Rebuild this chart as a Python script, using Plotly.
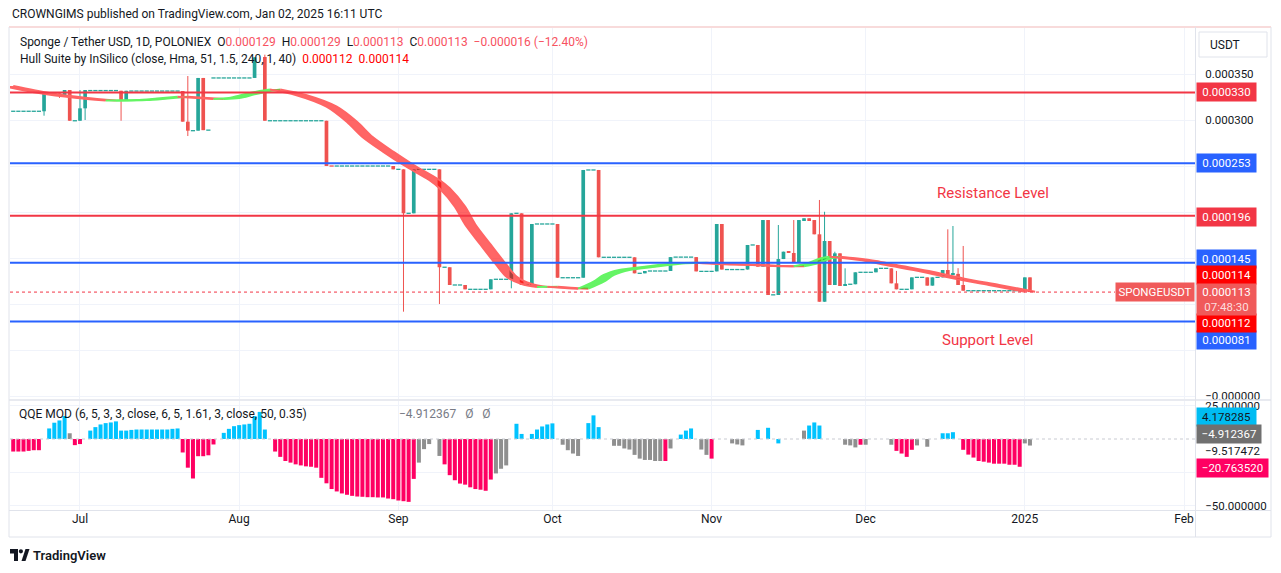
import pandas as pd
import plotly.graph_objects as go

SCALE = 1e-6  # all prices below are in millionths of USDT

# ---------------- candles (days with trades) ----------------
candle_dates = [
    "2024-06-24", "2024-06-27", "2024-06-28", "2024-06-29", "2024-07-01", "2024-07-02",
    "2024-07-09", "2024-07-10", "2024-07-21", "2024-07-22", "2024-07-24", "2024-07-25",
    "2024-08-04", "2024-08-06", "2024-08-18", "2024-08-31", "2024-09-02", "2024-09-04",
    "2024-09-09", "2024-09-11", "2024-09-14", "2024-09-19", "2024-09-23", "2024-09-25",
    "2024-09-27", "2024-10-02", "2024-10-07", "2024-10-10", "2024-10-17", "2024-10-19",
    "2024-10-24", "2024-10-29", "2024-11-02", "2024-11-03", "2024-11-08", "2024-11-10",
    "2024-11-11", "2024-11-12", "2024-11-14", "2024-11-15", "2024-11-16", "2024-11-17",
    "2024-11-18", "2024-11-19", "2024-11-20", "2024-11-21", "2024-11-22", "2024-11-23",
    "2024-11-24", "2024-11-25", "2024-11-26", "2024-11-27", "2024-11-29", "2024-12-03",
    "2024-12-06", "2024-12-07", "2024-12-10", "2024-12-13", "2024-12-14", "2024-12-16",
    "2024-12-17", "2024-12-18", "2024-12-19", "2024-12-20", "2025-01-01", "2025-01-02",
]
candle_open = [
    309.5, 329.0, 327.0, 332.6, 299.2, 312.7,
    331.8, 321.0, 331.5, 298.2, 288.4, 345.7,
    345.7, 368.5, 299.2, 250.0, 246.4, 198.6,
    246.4, 140.0, 120.7, 116.0, 126.9, 198.6,
    120.7, 187.0, 128.6, 245.7, 150.8, 133.4,
    135.9, 151.0, 135.5, 187.0, 137.5, 164.2,
    140.6, 191.3, 109.8, 148.9, 156.9, 155.5,
    144.9, 191.3, 193.2, 191.3, 175.8, 102.5,
    168.5, 120.7, 155.1, 120.5, 121.5, 134.5,
    138.8, 122.5, 116.0, 129.0, 120.0, 129.0,
    137.0, 131.6, 132.8, 120.7, 114.5, 129.0,
]
candle_high = [
    329.0, 329.0, 332.6, 332.6, 332.6, 332.6,
    331.8, 331.8, 331.5, 347.8, 345.7, 345.7,
    368.1, 371.0, 299.2, 250.0, 246.4, 246.4,
    246.4, 140.0, 120.7, 126.9, 198.6, 198.6,
    187.0, 187.0, 245.7, 245.7, 150.8, 135.9,
    151.0, 151.0, 187.0, 187.0, 164.2, 164.2,
    191.3, 191.3, 185.9, 156.9, 156.9, 191.3,
    191.3, 193.2, 193.2, 191.3, 213.1, 200.3,
    168.5, 156.9, 155.1, 138.8, 134.5, 138.8,
    138.8, 136.0, 129.0, 129.0, 129.0, 137.0,
    181.2, 184.8, 139.0, 163.1, 129.0, 129.0,
]
candle_low = [
    304.7, 324.0, 327.0, 299.2, 299.2, 300.0,
    299.2, 321.0, 298.2, 282.6, 288.4, 289.0,
    345.7, 299.2, 250.0, 246.4, 91.7, 198.6,
    100.0, 120.7, 116.0, 116.0, 117.1, 120.7,
    120.7, 128.6, 128.6, 150.8, 133.4, 133.4,
    135.9, 135.5, 135.5, 137.5, 137.5, 140.6,
    140.6, 109.8, 109.8, 148.9, 155.5, 144.9,
    144.9, 191.3, 191.3, 175.8, 102.5, 102.5,
    120.7, 120.7, 119.6, 120.5, 121.5, 134.5,
    122.5, 116.0, 116.0, 120.0, 120.0, 129.0,
    131.6, 131.6, 120.7, 114.5, 114.5, 113.0,
]
candle_close = [
    329.0, 326.5, 332.6, 299.2, 312.7, 332.6,
    321.0, 331.8, 298.2, 288.4, 345.7, 289.0,
    368.1, 299.2, 250.0, 246.4, 198.6, 246.4,
    140.0, 120.7, 116.0, 126.9, 198.6, 120.7,
    187.0, 128.6, 245.7, 150.8, 133.4, 135.9,
    151.0, 135.5, 187.0, 137.5, 164.2, 140.6,
    191.3, 109.8, 148.9, 156.9, 155.5, 144.9,
    191.3, 193.2, 191.3, 175.8, 102.5, 168.5,
    120.7, 155.1, 119.6, 121.5, 134.5, 138.8,
    122.5, 116.0, 129.0, 120.0, 129.0, 137.0,
    131.6, 132.8, 120.7, 114.5, 129.0, 113.0,
]

# ---------------- no-trade days (flat ticks), as observed runs ----------------
flat_start = [
    "2024-06-18", "2024-06-25", "2024-06-30", "2024-07-03", "2024-07-11", "2024-07-23",
    "2024-07-26", "2024-07-27", "2024-08-07", "2024-08-19", "2024-08-20", "2024-09-01",
    "2024-09-03", "2024-09-05", "2024-09-10", "2024-09-12", "2024-09-15", "2024-09-20",
    "2024-09-24", "2024-09-26", "2024-09-28", "2024-10-03", "2024-10-08", "2024-10-11",
    "2024-10-18", "2024-10-20", "2024-10-25", "2024-10-30", "2024-11-04", "2024-11-09",
    "2024-11-13", "2024-11-28", "2024-11-30", "2024-12-04", "2024-12-08", "2024-12-11",
    "2024-12-15", "2024-12-21",
]
flat_end = [
    "2024-06-23", "2024-06-26", "2024-06-30", "2024-07-08", "2024-07-20", "2024-07-23",
    "2024-07-26", "2024-08-03", "2024-08-17", "2024-08-19", "2024-08-30", "2024-09-01",
    "2024-09-03", "2024-09-08", "2024-09-10", "2024-09-13", "2024-09-18", "2024-09-22",
    "2024-09-24", "2024-09-26", "2024-10-01", "2024-10-06", "2024-10-09", "2024-10-16",
    "2024-10-18", "2024-10-23", "2024-10-28", "2024-11-01", "2024-11-07", "2024-11-09",
    "2024-11-13", "2024-11-28", "2024-12-02", "2024-12-05", "2024-12-09", "2024-12-12",
    "2024-12-15", "2024-12-31",
]
flat_price = [
    309.5, 329.0, 299.2, 332.0, 331.5, 288.4,
    289.0, 345.7, 299.2, 250.0, 250.0, 246.4,
    198.6, 246.4, 140.0, 120.7, 116.0, 126.9,
    198.6, 120.7, 187.0, 128.6, 245.7, 150.8,
    133.4, 135.9, 151.0, 135.5, 137.5, 164.2,
    110.0, 121.5, 134.5, 138.8, 116.0, 129.0,
    129.0, 114.5,
]
flat_down = [
    False, False, False, False, False, False,
    False, False, False, True, False, False,
    False, False, False, False, False, False,
    False, False, False, False, False, False,
    False, False, False, False, False, False,
    False, False, False, False, False, False,
    False, False,
]

# ---------------- Hull Suite (HMA 51) centre line ----------------
hull_dates = [
    "2024-06-17", "2024-06-24", "2024-07-01", "2024-07-07", "2024-07-13", "2024-07-17",
    "2024-07-21", "2024-07-24", "2024-07-28", "2024-07-31", "2024-08-03", "2024-08-06",
    "2024-08-08", "2024-08-13", "2024-08-19", "2024-08-23", "2024-08-26", "2024-08-30",
    "2024-09-03", "2024-09-08", "2024-09-10", "2024-09-13", "2024-09-15", "2024-09-18",
    "2024-09-21", "2024-09-23", "2024-09-26", "2024-09-29", "2024-10-01", "2024-10-05",
    "2024-10-07", "2024-10-10", "2024-10-12", "2024-10-15", "2024-10-20", "2024-10-26",
    "2024-10-30", "2024-11-03", "2024-11-10", "2024-11-14", "2024-11-18", "2024-11-21",
    "2024-11-23", "2024-11-25", "2024-11-28", "2024-12-02", "2024-12-06", "2024-12-13",
    "2024-12-19", "2024-12-26", "2025-01-02",
]
hull_vals = [
    337.0, 329.4, 324.2, 321.2, 321.7, 323.4,
    325.3, 324.2, 322.8, 323.9, 327.9, 331.5,
    333.2, 327.2, 314.5, 297.8, 281.5, 265.6,
    251.1, 234.8, 225.8, 205.8, 186.5, 164.5,
    143.0, 130.0, 121.8, 118.6, 118.9, 117.2,
    116.7, 124.3, 131.6, 137.0, 140.6, 144.3,
    144.9, 143.5, 142.4, 141.3, 141.0, 144.9,
    149.3, 151.4, 149.7, 146.8, 142.4, 135.1,
    127.9, 120.7, 113.4,
]

# ---------------- QQE MOD histogram (one bar per day from 2024-06-18) ----------------
qqe_first_day = "2024-06-18"
qqe_jun = [-9.4, -9.4, -9.4, -8.9, -8.4, -8.4, 0, 7.9, 12.2, 13.9, 17.2, 4.3, -4.6]
qqe_jul = [-3.8, 0, 6.3, 8.9, 10.9, 11.9, 12.4, 13.2, 6.3, 6.3, 6.8, 7.1, 7.1, 7.1, 7.1, 7.1,
           7.1, 7.1, 7.6, 7.9, -10.1, -21.5, -29.6, -12.9, -12.9, -12.2, -4.1, 0, 4.6, 7.6, 9.6]
qqe_aug = [10.4, 10.9, 11.4, 17.2, 20.3, 7.1, 0, -9.4, -13.4, -16.5, -17.7, -19.0, -19.8, -20.5,
           -20.8, -21.5, -29.1, -33.2, -37.5, -39.3, -40.8, -41.8, -42.6, -43.1, -43.3, -43.6,
           -43.6, -43.8, -43.8, -44.6, -45.1]
qqe_sep = [-46.1, -46.6, -47.1, -29.9, -17.7, -7.6, -3.8, 0, -12.7, -19.0, -27.1, -30.9, -33.4,
           -34.2, -36.2, -37.5, -38.0, -38.8, -30.4, -25.8, -22.3, -19.8, 0, 11.4, 3.8, 0, 3.8,
           7.1, 9.4, 10.9]
qqe_oct = [11.7, 0, -4.3, -8.4, -10.9, -12.7, 0, 11.9, 17.7, 8.9, 0, 0, -5.1, -5.1, -7.1, -7.9,
           -11.9, -14.7, -15.7, -15.7, -16.5, -16.5, -16.5, -7.1, 0, 3.3, 6.3, 7.9, 0, -7.9, -11.9]
qqe_nov = [-14.7, 0, 0, 0, -3.3, -4.1, -4.8, 0, 0, 6.8, 0, 8.4, 0, -3.3, 0, 0, 0, 0, 6.3, 10.1,
           12.4, 10.1, 0, 0, 0, 0, -4.3, -4.8, -6.3, -4.3]
qqe_dec = [-4.3, 0, 0, 0, 0, -4.3, -8.9, -10.9, -13.4, -8.1, -4.8, 0, -5.8, 0, 0, 4.3, 4.3, 5.1,
           0, -8.1, -11.7, -13.9, -16.5, -17.0, -17.7, -18.5, -18.5, -18.5, -19.3, -19.3, -20.8]
qqe_jan = [-3.3, -4.9]
# state per bar: u = above upper threshold, d = below lower threshold, n = neutral
qqe_state_jun = "ddddddnuuuund"
qqe_state_jul = "dnuuuuuuuuuuuuuuuuuudddddddnuuu"
qqe_state_aug = "uuuuuunddddddddddddddddddddddd"  + "d"
qqe_state_sep = "ddddnnnnnddddddddddnnnnuunuuuu"
qqe_state_oct = "unnnnnnuuunnnnnnnnnnnndnnuuunnn"
qqe_state_nov = "dnnnnnnnnunununnnnnuuuunnnnnndn"[:30]
qqe_state_dec = "nnnnnnddddnnnnnuuunddddddddddddd"[:31]
qqe_state_jan = "nn"

# ---------------- levels & labels ----------------
level_vals = [330, 253, 196, 145, 81]
level_is_red = [True, False, True, False, False]
last_price = 113
hull_last = [112, 114]
qqe_last = [4.178285, -4.912367, -9.517472, -20.763520]
month_ticks = ["2024-07-01", "2024-08-01", "2024-09-01", "2024-10-01", "2024-11-01",
               "2024-12-01", "2025-01-01", "2025-02-01"]
month_text = ["Jul", "Aug", "Sep", "Oct", "Nov", "Dec", "2025", "Feb"]
price_ticks = [0, 50, 100, 150, 200, 250, 300, 350]
price_tick_text = ["\u22120.000000", "", "", "", "0.000200", "", "0.000300", "0.000350"]
qqe_ticks = [25, -25, -50]
qqe_tick_text = ["25.000000", "", "\u221250.000000"]

# ---------------- style ----------------
TEAL = "#26A69A"
RED = "#EF5350"
LVL_RED = "#F23645"
LVL_BLUE = "#2962FF"
TXT = "#131722"
GRID = "#F0F3FA"
BORDER = "#E0E3EB"
QQE_COL = {"u": "#00C3FF", "d": "#FF0062", "n": "rgba(112,112,112,0.78)"}
FONT = "Roboto"

W, H = 1281, 573
ML, MR, MT, MB = 10, 86, 28, 63
PW = W - ML - MR
PH = H - MT - MB


def px(x):
    return (x - ML) / PW


def py(y):
    return (H - MB - y) / PH


DAY = pd.Timedelta(days=1)
x_start = pd.Timestamp("2024-07-01") - 13.63 * DAY
x_end = pd.Timestamp("2024-07-01") + 217.14 * DAY

fig = go.Figure()

# ---- candles ----
cd = pd.to_datetime(candle_dates)
up = [c >= o for o, c in zip(candle_open, candle_close)]
for want, col in ((True, TEAL), (False, RED)):
    wx, wy = [], []
    for d, h, l, u in zip(cd, candle_high, candle_low, up):
        if u == want:
            wx += [d, d, None]
            wy += [l * SCALE, h * SCALE, None]
    fig.add_trace(go.Scatter(x=wx, y=wy, mode="lines", line=dict(color=col, width=1),
                             xaxis="x", yaxis="y", hoverinfo="skip"))
fig.add_trace(go.Bar(
    x=cd,
    y=[abs(c - o) * SCALE for o, c in zip(candle_open, candle_close)],
    base=[min(o, c) * SCALE for o, c in zip(candle_open, candle_close)],
    width=0.72 * 86400000,
    marker=dict(color=[TEAL if u else RED for u in up], line=dict(width=0)),
    xaxis="x", yaxis="y", hoverinfo="skip"))

# ---- flat (no trade) days ----
fx, fy, fc = [], [], []
for s, e, p, dn in zip(flat_start, flat_end, flat_price, flat_down):
    for dt in pd.date_range(s, e, freq="D"):
        fx.append(dt)
        fy.append(p * SCALE)
        fc.append(RED if dn else TEAL)
fig.add_trace(go.Scatter(x=fx, y=fy, mode="markers",
                         marker=dict(symbol="line-ew", size=3, line=dict(width=1.3, color=fc)),
                         xaxis="x", yaxis="y", hoverinfo="skip"))

# ---- Hull band (HMA vs HMA[2]) ----
hd = pd.to_datetime(hull_dates)
n = len(hull_vals)
i = 0
while i < n - 1:
    rising = hull_vals[i + 1] > hull_vals[i]
    j = i + 1
    while j < n - 1 and (hull_vals[j + 1] > hull_vals[j]) == rising:
        j += 1
    xs = hd[i:j + 1]
    ys = [v * SCALE for v in hull_vals[i:j + 1]]
    lc = "rgb(100,245,100)" if rising else "rgb(255,100,100)"
    fc_ = "rgba(0,235,0,0.6)" if rising else "rgba(255,0,0,0.6)"
    fig.add_trace(go.Scatter(x=xs - DAY, y=ys, mode="lines",
                             line=dict(color=lc, width=2, shape="spline", smoothing=0.8),
                             xaxis="x", yaxis="y", hoverinfo="skip"))
    fig.add_trace(go.Scatter(x=xs + DAY, y=ys, mode="lines",
                             line=dict(color=lc, width=2, shape="spline", smoothing=0.8),
                             fill="tonexty", fillcolor=fc_,
                             xaxis="x", yaxis="y", hoverinfo="skip"))
    i = j

# ---- QQE histogram ----
qqe_vals = qqe_jun + qqe_jul + qqe_aug + qqe_sep + qqe_oct + qqe_nov + qqe_dec + qqe_jan
qqe_state = (qqe_state_jun + qqe_state_jul + qqe_state_aug + qqe_state_sep + qqe_state_oct
             + qqe_state_nov + qqe_state_dec + qqe_state_jan)
qqe_state = (qqe_state + "n" * len(qqe_vals))[:len(qqe_vals)]
qd = pd.date_range(qqe_first_day, periods=len(qqe_vals), freq="D")
fig.add_trace(go.Bar(x=qd, y=qqe_vals, width=0.78 * 86400000,
                     marker=dict(color=[QQE_COL[s] for s in qqe_state], line=dict(width=0)),
                     xaxis="x2", yaxis="y2", hoverinfo="skip"))

# ---- shapes ----
shapes = []
for v, isred in zip(level_vals, level_is_red):
    shapes.append(dict(type="line", xref="paper", yref="y", x0=0, x1=1, y0=v * SCALE, y1=v * SCALE,
                       line=dict(color=LVL_RED if isred else LVL_BLUE, width=2), layer="above"))
shapes.append(dict(type="line", xref="paper", yref="y", x0=0, x1=px(1115),
                   y0=last_price * SCALE, y1=last_price * SCALE,
                   line=dict(color=LVL_RED, width=1, dash="dot"), layer="above"))
shapes.append(dict(type="line", xref="paper", yref="y2", x0=0, x1=1, y0=0, y1=0,
                   line=dict(color="#C9CBD2", width=1, dash="dot"), layer="above"))


def hline(y, x0, x1, color=BORDER, width=1):
    shapes.append(dict(type="line", xref="paper", yref="paper", x0=px(x0), x1=px(x1),
                       y0=py(y), y1=py(y), line=dict(color=color, width=width), layer="above"))


def vline(x, y0, y1, color=BORDER, width=1):
    shapes.append(dict(type="line", xref="paper", yref="paper", x0=px(x), x1=px(x),
                       y0=py(y0), y1=py(y1), line=dict(color=color, width=width), layer="above"))


hline(27, 9, 1271, color="#F2B8B8", width=1.2)
hline(400, 9, 1271, width=1.5)
hline(510.5, 9, 1271)
hline(537, 9, 1271)
vline(9, 27, 537)
vline(1195.5, 27, 537)
vline(1271, 27, 537)
# USDT box
shapes.append(dict(type="rect", xref="paper", yref="paper", x0=px(1199), x1=px(1267),
                   y0=py(57), y1=py(32), line=dict(color=BORDER, width=1), fillcolor="white",
                   layer="above"))
# TradingView logo
shapes.append(dict(type="rect", xref="paper", yref="paper", x0=px(10), x1=px(18),
                   y0=py(553.5), y1=py(549), line=dict(width=0), fillcolor=TXT))
shapes.append(dict(type="rect", xref="paper", yref="paper", x0=px(14), x1=px(18),
                   y0=py(561), y1=py(549), line=dict(width=0), fillcolor=TXT))
shapes.append(dict(type="circle", xref="paper", yref="paper", x0=px(18.8), x1=px(23),
                   y0=py(553.5), y1=py(549.2), line=dict(width=0), fillcolor=TXT))
shapes.append(dict(type="path", xref="paper", yref="paper",
                   path=f"M {px(21.5)} {py(561)} L {px(25.5)} {py(549)} L {px(29.5)} {py(549)} "
                        f"L {px(25.5)} {py(561)} Z",
                   line=dict(width=0), fillcolor=TXT))

# ---- annotations ----
ann = []


def text(x, y, t, size=12, color=TXT, anchor="left", weight=None):
    f = dict(family=FONT, size=size, color=color)
    if weight:
        f["weight"] = weight
    ann.append(dict(xref="paper", yref="paper", x=px(x), y=py(y), text=t, showarrow=False,
                    xanchor=anchor, yanchor="middle", font=f))


def label(v, yref, t, bg, yshift=0, w=55, h=14, color="white", anchor="left", x=1196):
    ann.append(dict(xref="paper", yref=yref, x=px(x), y=v, text=t, showarrow=False,
                    xanchor=anchor, yanchor="middle", yshift=yshift, bgcolor=bg,
                    width=w, height=h, borderpad=2, align="center",
                    font=dict(family=FONT, size=11.5, color=color)))


def fmt(v):
    return f"{v * SCALE:.6f}"


text(10, 14, "CROWNGIMS published on TradingView.com, Jan 02, 2025 16:11 UTC", size=12)
vc = "#F7525F"
nb = "\u00a0\u00a0"
text(18, 42,
     f"Sponge / Tether USD, 1D, POLONIEX{nb}O<span style='color:{vc}'>0.000129</span>{nb}"
     f"H<span style='color:{vc}'>0.000129</span>{nb}L<span style='color:{vc}'>0.000113</span>{nb}"
     f"C<span style='color:{vc}'>0.000113</span>{nb}<span style='color:{vc}'>\u22120.000016 "
     f"(\u221212.40%)</span>", size=12)
text(18, 59,
     f"Hull Suite by InSilico (close, Hma, 51, 1.5, 240, 1, 40){nb}"
     f"<span style='color:#FF0000'>{fmt(hull_last[0])}{nb}{fmt(hull_last[1])}</span>", size=12)
text(17, 414, "QQE MOD (6, 5, 3, 3, close, 6, 5, 1.61, 3, close, 50, 0.35)", size=12)
text(397, 414, f"\u2212{abs(qqe_last[1]):.6f}{nb}\u00a0\u00d8{nb}\u00a0\u00d8", size=12, color="#787B86")
text(935, 193, "Resistance Level", size=15, color=LVL_RED)
text(940, 340, "Support Level", size=15, color=LVL_RED)
text(1208, 44.5, "USDT", size=12)
text(31, 555, "TradingView", size=13, weight=600)

# level labels on the price scale
lvl_shift = {330: 0, 253: 0, 196: -1, 145: 4, 81: -18.5}
for v, isred in zip(level_vals, level_is_red):
    label(v * SCALE, "y", fmt(v), LVL_RED if isred else LVL_BLUE, yshift=lvl_shift[v])
label(hull_last[1] * SCALE, "y", fmt(hull_last[1]), "#FF0000", yshift=15.7)
label(hull_last[0] * SCALE, "y", fmt(hull_last[0]), "#FF0000", yshift=-30)
label(last_price * SCALE, "y", f"{fmt(last_price)}<br><span style='color:rgba(255,255,255,0.8)'>07:48:30</span>",
      "#F05A5A", yshift=-7.2, h=27)
label(last_price * SCALE, "y", "SPONGEUSDT", "#F05A5A", w=74, anchor="right", x=1195)
# QQE labels
label(qqe_last[0], "y2", f"{qqe_last[0]:.6f}", "#00BCF2", yshift=16.7, color=TXT)
label(qqe_last[1], "y2", f"\u2212{abs(qqe_last[1]):.6f}", "#707070", yshift=12, w=60)
ann.append(dict(xref="paper", yref="y2", x=px(1203), y=qqe_last[2], yshift=1,
                text=f"\u2212{abs(qqe_last[2]):.6f}", showarrow=False, xanchor="left",
                yanchor="middle", font=dict(family=FONT, size=11.5, color=TXT)))
label(qqe_last[3], "y2", f"\u2212{abs(qqe_last[3]):.6f}", "#FF0062", yshift=-1, w=67)

axis_x = dict(type="date", range=[x_start, x_end], tickvals=month_ticks, showgrid=True,
              gridcolor=GRID, gridwidth=1, zeroline=False, showline=False, ticks="",
              fixedrange=True)

fig.update_layout(
    width=W, height=H,
    margin=dict(l=ML, r=MR, t=MT, b=MB, pad=0),
    paper_bgcolor="white", plot_bgcolor="white",
    showlegend=False, hovermode=False, barmode="overlay",
    font=dict(family=FONT, size=12, color=TXT),
    xaxis=dict(**axis_x, anchor="y", showticklabels=False),
    xaxis2=dict(**axis_x, anchor="y2", matches="x", ticktext=month_text,
                tickfont=dict(family=FONT, size=12, color=TXT)),
    yaxis=dict(domain=[(H - MB - 399) / PH, 1], range=[-3.2e-6, 400e-6], side="right",
               tickvals=[v * SCALE for v in price_ticks], ticktext=price_tick_text,
               showgrid=True, gridcolor=GRID, zeroline=False, showline=False,
               ticks="outside", ticklen=7, tickcolor="rgba(0,0,0,0)",
               tickfont=dict(family=FONT, size=11.5, color=TXT), fixedrange=True),
    yaxis2=dict(domain=[0, (H - MB - 401) / PH], range=[-53.2, 28.47], side="right",
                tickvals=qqe_ticks, ticktext=qqe_tick_text,
                showgrid=True, gridcolor=GRID, zeroline=False, showline=False,
                ticks="outside", ticklen=7, tickcolor="rgba(0,0,0,0)",
                tickfont=dict(family=FONT, size=11.5, color=TXT), fixedrange=True),
    shapes=shapes,
    annotations=ann,
)

fig.write_html("out.html", config={"displayModeBar": False},
               post_script="document.body.style.margin='0px';document.body.style.overflow='hidden';")
